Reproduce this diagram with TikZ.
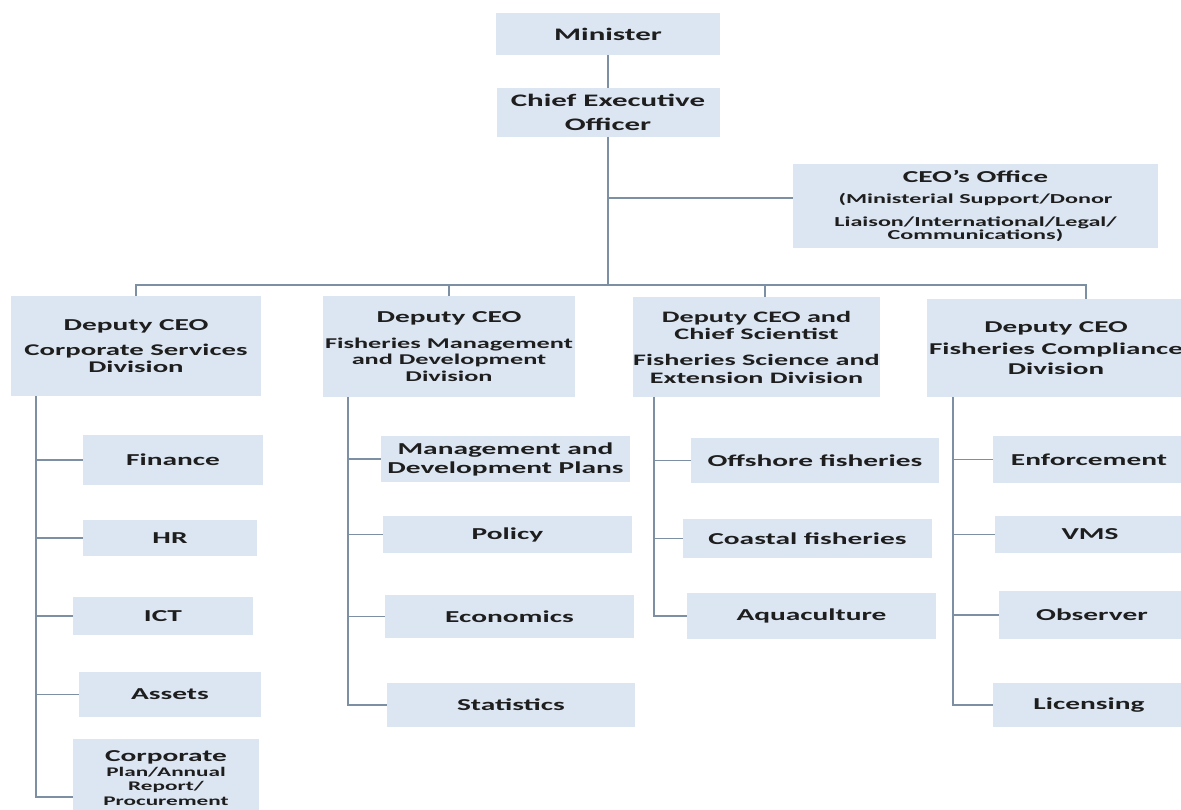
\documentclass[tikz,border=0pt]{standalone}
\usepackage{fontspec}
\setmainfont{Carlito}[FakeStretch=1.76]
\definecolor{boxfill}{HTML}{DCE6F2}
\definecolor{linkcol}{HTML}{7D8FA3}
\definecolor{txtcol}{HTML}{1E1E1E}
\newcommand{\fbig}{\fontsize{10}{14}\selectfont}
\newcommand{\fmid}{\fontsize{9.5}{10.8}\selectfont}
\newcommand{\fsml}{\fontsize{7.5}{8}\selectfont}
\tikzset{
  unit/.style={fill=boxfill,text=txtcol,font=\fbig\bfseries,align=center,inner sep=0pt},
  sz/.style 2 args={minimum width=#1*0.02cm,minimum height=#2*0.02cm},
  link/.style={draw=linkcol,line width=0.9pt},
}
\begin{document}
\begin{tikzpicture}[x=0.02cm,y=-0.02cm]
\path[fill=white,use as bounding box] (0,0) rectangle (1181,810);
% top of the chart
\node[unit,sz={224}{42}] (min) at (608,34) {Minister};
\node[unit,sz={223}{49}] (ceo) at (608,112.5) {Chief Executive\\Officer};
\node[unit,sz={365}{84},font=\fontsize{7.8}{7.4}\selectfont\bfseries] (off) at (975.5,206)
  {{\fmid CEO's Office}\\[4.5pt](Ministerial Support/Donor\\[6.2pt]Liaison/International/Legal/\\Communications)};
\coordinate (bus) at (608,285);
% divisions
\node[unit,sz={250}{100},font=\fontsize{9.3}{9.8}\selectfont\bfseries] (d1) at (136,346)
  {{\fmid Deputy CEO}\\[4.4pt]Corporate Services\\Division};
\node[unit,sz={252}{101},font=\fontsize{8.5}{9.3}\selectfont\bfseries] (d2) at (449,346.5)
  {{\fmid Deputy CEO}\\[5.4pt]Fisheries Management\\and Development\\Division};
\node[unit,sz={247}{100},font=\fontsize{9.1}{9.8}\selectfont\bfseries] (d3) at (756.5,347)
  {Deputy CEO and\\[0.4pt]Chief Scientist\\[4.9pt]Fisheries Science and\\Extension Division};
\node[unit,sz={258}{98},font=\fontsize{9.4}{11.3}\selectfont\bfseries] (d4) at (1056,348)
  {Deputy CEO\\[1.2pt]Fisheries Compliance\\Division};
% corporate services
\node[unit,sz={180}{50},font=\fmid\bfseries] (fin) at (173,460) {Finance};
\node[unit,sz={174}{36},font=\fmid\bfseries] (hr) at (170,538) {HR};
\node[unit,sz={180}{38},font=\fmid\bfseries] (ict) at (163,616) {ICT};
\node[unit,sz={182}{45},font=\fmid\bfseries] (ast) at (170,694.5) {Assets};
\node[unit,sz={186}{78},font=\fsml\bfseries] (corp) at (166,778)
  {{\fmid Corporate}\\[0.6pt]Plan/Annual\\Report/\\Procurement};
% management and development
\node[unit,sz={249}{46},font=\fmid\bfseries] (mdp) at (505.5,459) {Management and\\Development Plans};
\node[unit,sz={249}{37},font=\fmid\bfseries] (pol) at (507.5,534.5) {Policy};
\node[unit,sz={249}{43},font=\fmid\bfseries] (eco) at (509.5,616.5) {Economics};
\node[unit,sz={248}{44},font=\fmid\bfseries] (sta) at (511,705) {Statistics};
% science and extension
\node[unit,sz={248}{45},font=\fmid\bfseries] (off1) at (815,460.5) {Offshore fisheries};
\node[unit,sz={249}{39},font=\fmid\bfseries] (coa) at (807.5,538.5) {Coastal fisheries};
\node[unit,sz={249}{46},font=\fmid\bfseries] (aqu) at (811.5,616) {Aquaculture};
% compliance
\node[unit,sz={192}{47},font=\fmid\bfseries] (enf) at (1089,459.5) {Enforcement};
\node[unit,sz={190}{37},font=\fmid\bfseries] (vms) at (1090,534.5) {VMS};
\node[unit,sz={186}{48},font=\fmid\bfseries] (obs) at (1092,615) {Observer};
\node[unit,sz={192}{44},font=\fmid\bfseries] (lic) at (1089,705) {Licensing};
% connectors
\draw[link] (min) -- (ceo);
\draw[link] (ceo) -- (bus);
\draw[link] ([yshift=0.16cm]bus |- off.west) -- ([yshift=0.16cm]off.west);
\draw[link] (bus) -| (d1.north);
\draw[link] (bus) -| (d2.north);
\draw[link] (bus) -| ([xshift=0.17cm]d3.north);
\draw[link] (bus) -| ([xshift=0.6cm]d4.north);
\coordinate (t1) at (36,0);
\coordinate (t2) at (348,0);
\coordinate (t3) at (654,0);
\coordinate (t4) at (953,0);
\draw[link] (t1 |- d1.south) |- ([yshift=-0.38cm]corp.west);
\foreach \s in {fin,hr,ict,ast} \draw[link] (t1 |- \s.west) -- (\s.west);
\draw[link] (t2 |- d2.south) |- (sta.west);
\foreach \s in {mdp,pol,eco} \draw[link] (t2 |- \s.west) -- (\s.west);
\draw[link] (t3 |- d3.south) |- (aqu.west);
\foreach \s in {off1,coa} \draw[link] (t3 |- \s.west) -- (\s.west);
\draw[link] (t4 |- d4.south) |- (lic.west);
\foreach \s in {enf,vms,obs} \draw[link] (t4 |- \s.west) -- (\s.west);
\end{tikzpicture}
\end{document}
